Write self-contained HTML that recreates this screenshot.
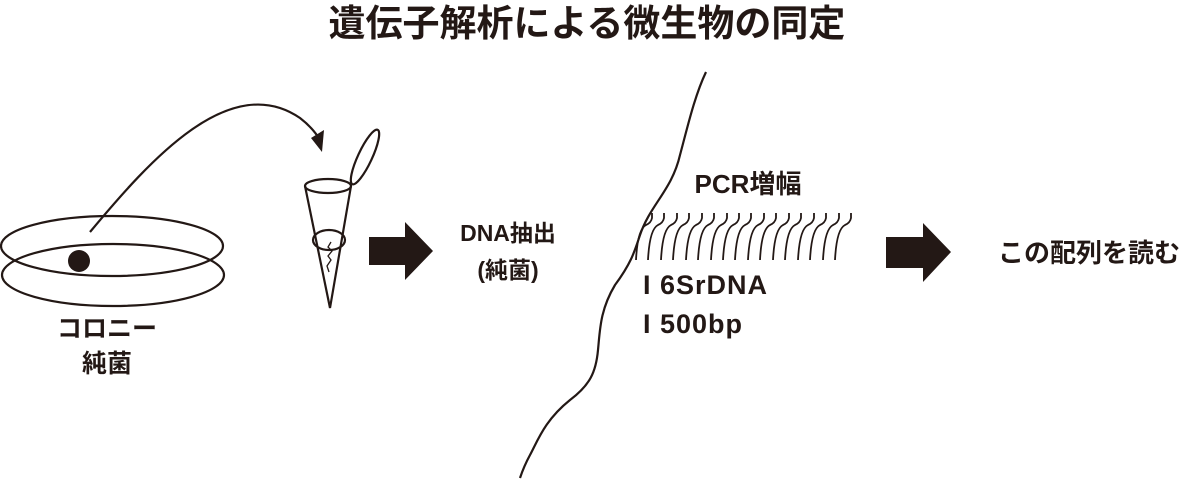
<!DOCTYPE html>
<html><head><meta charset="utf-8"><style>
body{margin:0;background:#fff;width:1200px;height:480px;overflow:hidden}
svg{display:block}
text{font-family:"Liberation Sans","Noto Sans CJK JP",sans-serif;font-weight:bold;fill:#231815}
</style></head><body>
<svg width="1200" height="480" viewBox="0 0 1200 480">
<text x="587" y="36" font-size="37" text-anchor="middle">遺伝子解析による微生物の同定</text>
<g fill="none" stroke="#231815" stroke-width="2.2">
<ellipse cx="112" cy="246" rx="111" ry="30"/>
<ellipse cx="113" cy="275" rx="111" ry="31"/>
<path d="M90 232 C150 160 230 70 300 118 Q313 128 320 140"/>
<ellipse cx="328" cy="186" rx="23" ry="7"/>
<path d="M305 186 L330 308 L351 186"/>
<ellipse cx="329" cy="240" rx="16" ry="10"/>
<path d="M331 242 l-3 5 4 4 -4 5 3 4 -4 6 2 6" stroke-width="1.3"/>
<ellipse cx="365" cy="157" rx="7" ry="30" transform="rotate(25 365 157)"/>
<path d="M706 72 C695 95 688 125 680 155 C672 190 650 205 640 235 C635 250 632 262 615 285 C600 310 600 330 598 350 C596 372 590 385 570 400 C545 420 538 440 530 455 C524 466 522 472 520 478"/>
</g>
<path d="M311 138 L324 130 L322 152 Z" fill="#231815"/>
<circle cx="79" cy="261" r="11" fill="#231815"/>
<path d="M369 237 H405 V222 L433 251 L405 280 V265 H369 Z" fill="#231815"/>
<path d="M886 237 H923 V223 L951 252 L923 282 V268 H886 Z" fill="#231815"/>
<g fill="none" stroke="#231815" stroke-width="1.8">
<path d="M636 260 C637 240 640 228 646 225 Q651 223 652 218 V213"/>
<path d="M648 260 C649 240 652 228 658 225 Q663 223 664 218 V213"/>
<path d="M661 260 C662 240 665 228 671 225 Q676 223 677 218 V213"/>
<path d="M673 260 C674 240 677 228 683 225 Q688 223 689 218 V213"/>
<path d="M686 260 C687 240 690 228 696 225 Q701 223 702 218 V213"/>
<path d="M698 260 C699 240 702 228 708 225 Q713 223 714 218 V213"/>
<path d="M711 260 C712 240 715 228 721 225 Q726 223 727 218 V213"/>
<path d="M723 260 C724 240 727 228 733 225 Q738 223 739 218 V213"/>
<path d="M735 260 C736 240 739 228 745 225 Q750 223 751 218 V213"/>
<path d="M748 260 C749 240 752 228 758 225 Q763 223 764 218 V213"/>
<path d="M760 260 C761 240 764 228 770 225 Q775 223 776 218 V213"/>
<path d="M773 260 C774 240 777 228 783 225 Q788 223 789 218 V213"/>
<path d="M785 260 C786 240 789 228 795 225 Q800 223 801 218 V213"/>
<path d="M798 260 C799 240 802 228 808 225 Q813 223 814 218 V213"/>
<path d="M810 260 C811 240 814 228 820 225 Q825 223 826 218 V213"/>
<path d="M823 260 C824 240 827 228 833 225 Q838 223 839 218 V213"/>
<path d="M835 260 C836 240 839 228 845 225 Q850 223 851 218 V213"/>
</g>
<text x="107" y="337" font-size="25" text-anchor="middle">コロニー</text>
<text x="107" y="372" font-size="25" text-anchor="middle">純菌</text>
<text x="508" y="241" font-size="23" text-anchor="middle">DNA抽出</text>
<text x="508" y="278" font-size="23" text-anchor="middle">(純菌)</text>
<text x="748" y="193" font-size="26" text-anchor="middle">PCR増幅</text>
<text x="643" y="294" font-size="27" letter-spacing="1">I 6SrDNA</text>
<text x="643" y="333" font-size="27" letter-spacing="1">I 500bp</text>
<text x="1089" y="262" font-size="26" text-anchor="middle">この配列を読む</text>
</svg>
</body></html>
